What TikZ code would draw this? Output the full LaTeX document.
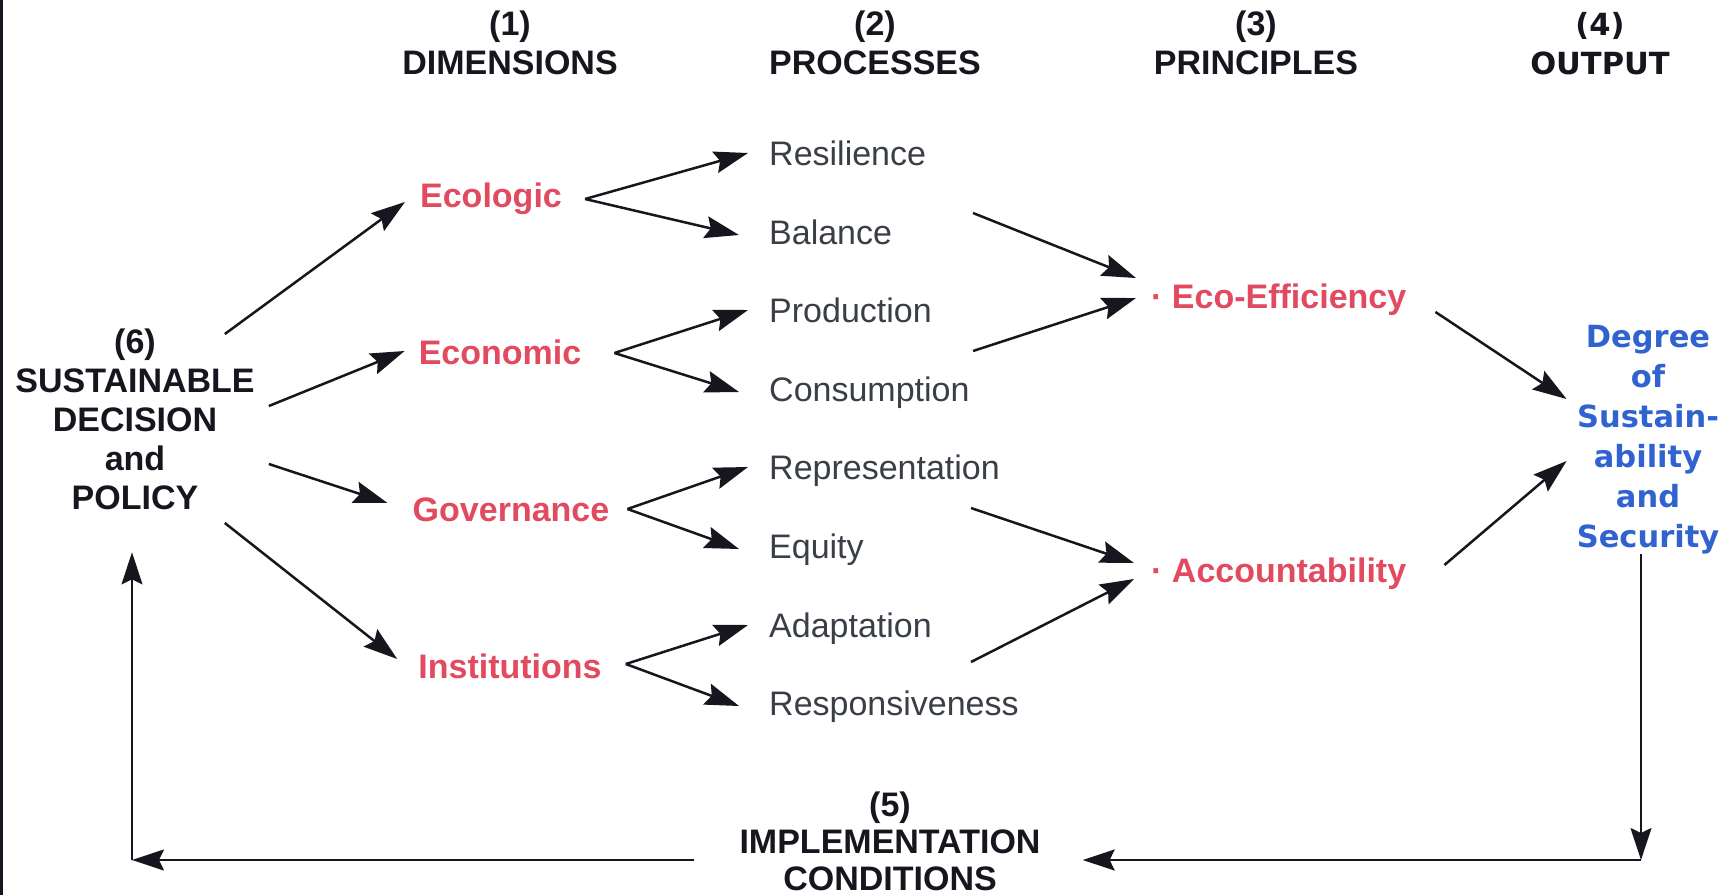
\documentclass[tikz,border=0pt]{standalone}
\usepackage{fontspec}
\setmainfont{Liberation Sans}
\newfontfamily\widefont{DejaVu Sans}
\usetikzlibrary{arrows.meta,calc}
\definecolor{dimred}{RGB}{226,74,96}
\definecolor{outblue}{RGB}{48,98,208}
\definecolor{procgray}{RGB}{58,62,70}
\definecolor{inkblack}{RGB}{22,22,30}
\tikzset{
  hdr/.style={font=\bfseries\fontsize{34}{39}\selectfont, text=inkblack, align=center, inner sep=0pt, anchor=north},
  dimnode/.style={font=\bfseries\fontsize{34}{39}\selectfont, text=dimred, inner sep=0pt, anchor=base, text height=25pt, text depth=7pt},
  procnode/.style={font=\fontsize{34}{39}\selectfont, text=procgray, inner sep=0pt, anchor=base west, text height=25pt, text depth=7pt},
  prinnode/.style={font=\bfseries\fontsize{34}{39}\selectfont, text=dimred, inner sep=0pt, anchor=base west, text height=25pt, text depth=7pt},
  outnode/.style={font=\widefont\bfseries\fontsize{30.5}{40}\selectfont, text=outblue, align=center, inner sep=0pt, anchor=north},
  arr/.style={draw=inkblack, line width=2.5pt, -{Stealth[length=34pt,width=22pt,inset=5pt]}},
  arrthin/.style={draw=inkblack, line width=2pt, -{Stealth[length=32pt,width=21pt,inset=5pt]}}
}
\begin{document}
\begin{tikzpicture}[x=1pt,y=-1pt]
\useasboundingbox (0,0) rectangle (1730,895);
\draw[line width=2.5pt, inkblack] (1.25,0) -- (1.25,895);

% column headers
\node[hdr] (h1) at (510,11) {(1)\\DIMENSIONS};
\node[hdr] (h2) at (875,11) {(2)\\PROCESSES};
\node[hdr] (h3) at (1256,11) {(3)\\PRINCIPLES};
\node[hdr, font=\widefont\bfseries\fontsize{30.5}{39}\selectfont] (h4) at (1600,12) {(4)\\OUTPUT};

% left and bottom blocks
\node[hdr] (policy) at (135,329) {(6)\\SUSTAINABLE\\DECISION\\and\\POLICY};
\node[hdr, font=\bfseries\fontsize{34}{37}\selectfont] (impl) at (890,792) {(5)\\IMPLEMENTATION\\CONDITIONS};

% dimensions
\node[dimnode] (ecol) at (491,207) {Ecologic};
\node[dimnode] (econ) at (500,364) {Economic};
\node[dimnode] (gov)  at (511,521) {Governance};
\node[dimnode] (inst) at (510,678) {Institutions};

% processes
\node[procnode] (res)  at (769,165) {Resilience};
\node[procnode] (bal)  at (769,244) {Balance};
\node[procnode] (prod) at (769,322) {Production};
\node[procnode] (cons) at (769,401) {Consumption};
\node[procnode] (rep)  at (769,479) {Representation};
\node[procnode] (equ)  at (769,558) {Equity};
\node[procnode] (ada)  at (769,637) {Adaptation};
\node[procnode] (resp) at (769,715) {Responsiveness};

% principles
\node[prinnode] (ee)  at (1151,308) {· Eco-Efficiency};
\node[prinnode] (acc) at (1151,582) {· Accountability};

% output
\node[outnode] (degree) at (1648,325) {Degree\\of\\Sustain-\\ability\\and\\Security};

% policy -> dimensions
\draw[arr] ($(policy.north east)+(-30,5)$)   -- ($(ecol.west)+(-15,4)$);
\draw[arr] ($(policy.north east)+(14,77)$)   -- ($(econ.west)+(-14,-4)$);
\draw[arr] ($(policy.north east)+(14,135)$)  -- ($(gov.west)+(-25,-9)$);
\draw[arr] ($(policy.north east)+(-30,194)$) -- ($(inst.west)+(-21,-10)$);

% dimension forks
\coordinate (v1) at ($(ecol.east)+(23,1)$);
\coordinate (v2) at ($(econ.east)+(33,-2)$);
\coordinate (v3) at ($(gov.east)+(18,-3)$);
\coordinate (v4) at ($(inst.east)+(24,-5)$);
\draw[arr] (v1) -- ($(res.west)+(-21,-3)$);
\draw[arr] (v1) -- ($(bal.west)+(-30,0)$);
\draw[arr] (v2) -- ($(prod.west)+(-21,-3)$);
\draw[arr] (v2) -- ($(cons.west)+(-30,0)$);
\draw[arr] (v3) -- ($(rep.west)+(-21,-3)$);
\draw[arr] (v3) -- ($(equ.west)+(-30,0)$);
\draw[arr] (v4) -- ($(ada.west)+(-21,-3)$);
\draw[arr] (v4) -- ($(resp.west)+(-30,0)$);

% processes -> principles
\draw[arr] ($(bal.west)+(204,-22)$) -- ($(ee.west)+(-15,-21)$);
\draw[arr] ($(prod.west)+(204,38)$) -- ($(ee.west)+(-15,-1)$);
\draw[arr] ($(rep.west)+(202,38)$)  -- ($(acc.west)+(-17,-10)$);
\draw[arr] ($(ada.west)+(202,34)$)  -- ($(acc.west)+(-17,6)$);

% principles -> output
\draw[arr] ($(ee.east)+(29,13)$)  -- ($(degree.north west)+(-10,74)$);
\draw[arr] ($(acc.east)+(38,-8)$) -- ($(degree.north west)+(-10,136)$);

% feedback loop
\coordinate (cR) at (1641,860);
\coordinate (cL) at (132,860);
\draw[arrthin] (degree.south -| cR) -- (cR);
\draw[arrthin] (cR) -- ($(impl.east |- cR)+(42,0)$);
\draw[arrthin] ($(impl.west |- cL)+(-45,0)$) -- (cL);
\draw[arrthin] (cL) -- ($(policy.south -| cL)+(0,42)$);
\end{tikzpicture}
\end{document}
